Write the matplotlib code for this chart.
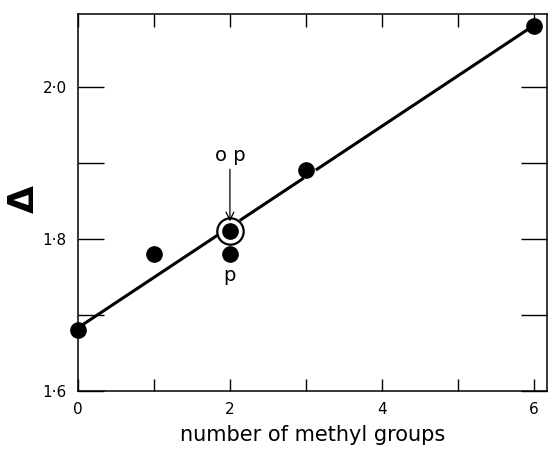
import matplotlib
matplotlib.use("Agg")
import numpy as np
import matplotlib.pyplot as plt

# measured points: number of methyl groups vs Delta
n_methyl = [0, 1, 2, 2, 3, 6]
delta = [1.68, 1.78, 1.81, 1.78, 1.89, 2.08]
circled = (2, 1.81)

# straight line fit, drawn in pieces (gaps where it meets the points)
fit_a, fit_b = 1.683, 0.0663
fit_pieces = [(0.05, 1.88), (2.13, 2.97), (3.13, 5.95)]

xticks_major = [0, 2, 4, 6]
xticks_minor = [1, 3, 5]
yticks_major = [1.6, 1.8, 2.0]
yticks_minor = [1.7, 1.9]
ytick_labels = ["1·6", "1·8", "2·0"]

fig = plt.figure(figsize=(5.49, 4.61), dpi=100)
ax = fig.add_axes([0.142, 0.152, 0.854, 0.818])

for x0, x1 in fit_pieces:
    xs = np.array([x0, x1])
    ax.plot(xs, fit_a + fit_b * xs, color="black", lw=2.2, solid_capstyle="butt", zorder=2)

# open ring around the o,p point
ax.plot(*circled, "o", ms=19, mfc="white", mec="black", mew=1.6, zorder=3, clip_on=False)
ax.plot(n_methyl, delta, "o", color="black", ms=11, ls="none", zorder=4, clip_on=False)

ax.annotate("o p", xy=(2, 1.823), xytext=(2, 1.897), ha="center", va="bottom",
            fontsize=14, arrowprops=dict(arrowstyle="->", lw=0.9, color="black",
                                         shrinkA=1, shrinkB=0))
ax.text(2, 1.764, "p", ha="center", va="top", fontsize=14)

ax.set_xlim(0, 6.17)
ax.set_ylim(1.6, 2.096)
ax.set_xticks(xticks_major)
ax.set_xticks(xticks_minor, minor=True)
ax.set_yticks(yticks_major, ytick_labels)
ax.set_yticks(yticks_minor, minor=True)

ax.tick_params(axis="x", which="both", direction="in", length=9, width=1.0,
               top=True, labelsize=11, pad=8)
ax.tick_params(axis="y", which="both", direction="in", length=19, width=1.0,
               right=True, labelsize=11, pad=8)
for s in ax.spines.values():
    s.set_linewidth(1.1)

ax.set_xlabel("number of methyl groups", fontsize=15, labelpad=6)
ax.set_ylabel("Δ", fontsize=26, fontweight="bold")
ax.yaxis.set_label_coords(-0.08, 0.51)

fig.savefig("out.png", dpi=100)
